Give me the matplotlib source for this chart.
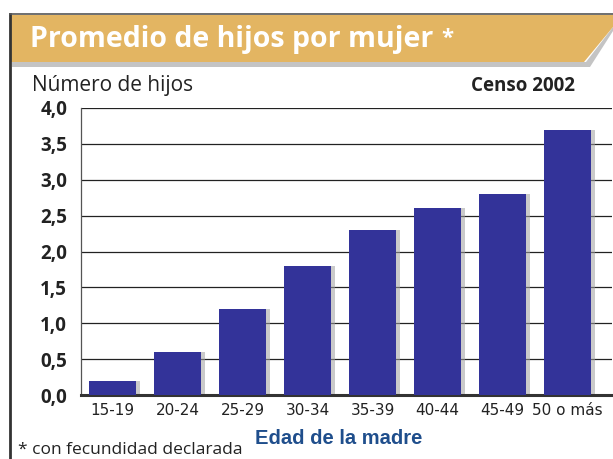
import matplotlib.pyplot as plt
from matplotlib.patches import Polygon
from matplotlib.lines import Line2D

edades = ['15-19', '20-24', '25-29', '30-34', '35-39', '40-44', '45-49', '50 o más']
hijos = [0.2, 0.6, 1.2, 1.8, 2.3, 2.6, 2.8, 3.7]
yticks = [0.0, 0.5, 1.0, 1.5, 2.0, 2.5, 3.0, 3.5, 4.0]
ylabels = ['0,0', '0,5', '1,0', '1,5', '2,0', '2,5', '3,0', '3,5', '4,0']

W, H = 613, 459
fig = plt.figure(figsize=(W / 100, H / 100), dpi=100)

# marco y banda del titulo (coordenadas de figura en pixeles)
def px(x, y):
    return (x / W, 1 - y / H)

sombra = Polygon([px(12, 62), px(586, 62), px(613, 27), px(613, 31), px(590, 67), px(12, 67)],
                 closed=True, transform=fig.transFigure, facecolor='#c4c4c4', edgecolor='none')
fig.patches.append(sombra)
banda = Polygon([px(10, 15), px(613, 15), px(613, 27), px(584, 62), px(10, 62)],
                closed=True, transform=fig.transFigure, facecolor='#e3b562', edgecolor='none')
fig.patches.append(banda)
fig.lines.append(Line2D([10 / W, 10 / W], [1 - 14 / H, 0], transform=fig.transFigure,
                        color='#333333', lw=2))
fig.lines.append(Line2D([10 / W, 1], [1 - 14 / H, 1 - 14 / H], transform=fig.transFigure,
                        color='#555555', lw=1.2))

fig.text(30 / W, 1 - 39 / H, 'Promedio de hijos por mujer', color='white', fontsize=20.5,
         fontweight='bold', family='Open Sans', va='center', ha='left')
fig.text(441 / W, 1 - 38 / H, '*', color='white', fontsize=16,
         fontweight='bold', family='Open Sans', va='center', ha='left')
fig.text(32 / W, 1 - 86 / H, 'Número de hijos', fontsize=15, family='Open Sans',
         color='#222222', va='center', ha='left')
fig.text(575 / W, 1 - 86 / H, 'Censo 2002', fontsize=13.5, family='Open Sans',
         fontweight='bold', color='#222222', va='center', ha='right')
fig.text(18 / W, 1 - 450 / H, '* con fecundidad declarada', fontsize=12.5, family='Open Sans',
         color='#222222', va='center', ha='left')

ax = fig.add_axes([81 / W, 1 - 395 / H, (612 - 81) / W, (395 - 108) / H])
x = range(len(edades))
# sombra de las barras
ax.bar([i + 0.06 for i in x], hijos, width=0.72, color='#a0a0a0', alpha=0.55, zorder=2)
ax.bar(x, hijos, width=0.72, color='#333399', zorder=3)

ax.set_xlim(-0.485, 7.68)
ax.set_ylim(0, 4.0)
ax.set_yticks(yticks)
ax.set_yticklabels(ylabels, fontsize=13.5, fontweight='bold', family='Open Sans', color='#222222')
ax.yaxis.grid(True, color='#222222', lw=0.9, zorder=1)
ax.tick_params(axis='y', length=0, pad=10)
ax.set_xticks(list(x))
ax.set_xticklabels(edades, fontsize=11, family=['Liberation Sans Narrow', 'DejaVu Sans'],
                   color='#222222')
ax.tick_params(axis='x', length=0, pad=6)
for s in ['top', 'right']:
    ax.spines[s].set_visible(False)
ax.spines['left'].set_color('#555555')
ax.spines['left'].set_linewidth(0.9)
ax.spines['bottom'].set_color('#333333')
ax.spines['bottom'].set_linewidth(2.2)
ax.set_xlabel('Edad de la madre', fontsize=14.5, fontweight='bold', color='#1f4e8c',
              family='Liberation Sans')
ax.xaxis.set_label_coords(0.486, -0.12)

fig.savefig('out.png', dpi=100)
